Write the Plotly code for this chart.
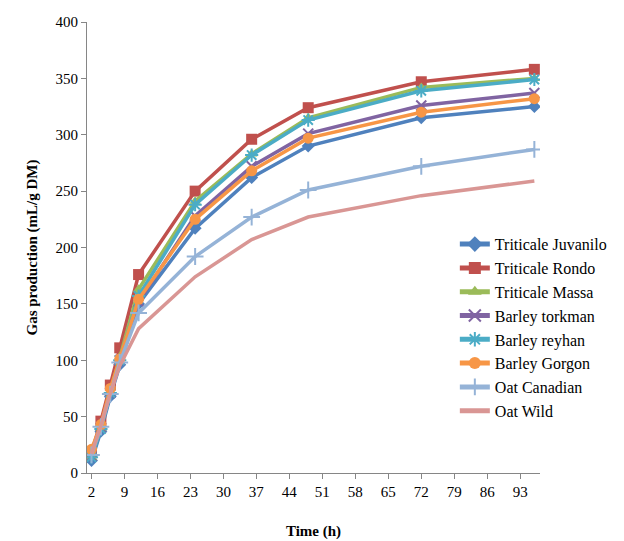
import plotly.graph_objects as go

times = [2, 4, 6, 8, 12, 24, 36, 48, 72, 96]

juvanilo = [11, 37, 68, 96, 150, 217, 262, 290, 315, 325]
rondo = [18, 46, 78, 111, 176, 250, 296, 324, 347, 358]
massa = [14, 40, 72, 103, 163, 241, 283, 315, 342, 350]
torkman = [15, 40, 71, 100, 152, 228, 272, 301, 326, 337]
reyhan = [14, 39, 71, 100, 157, 238, 282, 313, 339, 349]
gorgon = [21, 43, 75, 101, 154, 225, 268, 297, 320, 332]
canadian = [16, 41, 70, 98, 142, 192, 227, 251, 272, 287]
wild = [17, 42, 71, 95, 128, 174, 207, 227, 246, 259]

series_names = ["Triticale Juvanilo", "Triticale Rondo", "Triticale Massa",
                "Barley torkman", "Barley reyhan", "Barley Gorgon",
                "Oat Canadian", "Oat Wild"]
series_values = [juvanilo, rondo, massa, torkman, reyhan, gorgon, canadian, wild]
colors = ["#4F81BD", "#C0504D", "#9BBB59", "#8064A2", "#4BACC6", "#F79646",
          "#95B3D7", "#D99694"]
symbols = ["diamond", "square", "triangle-up", "x-thin", "asterisk", "circle",
           "cross-thin", None]
sizes = [10, 11, 10, 10, 11, 11, 12, 0]

x_ticks = [2, 9, 16, 23, 30, 37, 44, 51, 58, 65, 72, 79, 86, 93]
y_ticks = [0, 50, 100, 150, 200, 250, 300, 350, 400]

fig = go.Figure()
for name, vals, c, s, sz in zip(series_names, series_values, colors, symbols, sizes):
    if s is None:
        fig.add_trace(go.Scatter(x=times, y=vals, name=name, mode="lines",
                                 line=dict(color=c, width=3.5)))
    else:
        fig.add_trace(go.Scatter(
            x=times, y=vals, name=name, mode="lines+markers",
            line=dict(color=c, width=3.5),
            marker=dict(symbol=s, size=sz, color=c,
                        line=dict(color=c, width=2 if "thin" in s or s == "asterisk" else 0))))

font_family = "Liberation Serif, Times New Roman, serif"
fig.update_layout(
    width=616, height=533,
    margin=dict(l=79, r=63, t=14, b=68),
    paper_bgcolor="white", plot_bgcolor="white",
    font=dict(family=font_family, size=15, color="#000000"),
    showlegend=True,
    legend=dict(x=0.812, y=0.545, xanchor="left", yanchor="top",
                bgcolor="rgba(0,0,0,0)", font=dict(size=16, family=font_family),
                tracegroupgap=0, itemsizing="constant"),
    xaxis=dict(range=[1.05, 97.2], tickvals=x_ticks, ticktext=[str(t) for t in x_ticks],
               showgrid=False, zeroline=False, showline=True, linecolor="#868686",
               linewidth=1, ticks="outside", ticklen=5, tickcolor="#868686",
               tickfont=dict(size=15, family=font_family), automargin=False,
               title=dict(text="<b>Time (h)</b>", font=dict(size=15, family=font_family),
                          standoff=26)),
    yaxis=dict(range=[0, 400], tickvals=y_ticks, automargin=False,
               showgrid=False, zeroline=False, showline=True, linecolor="#868686",
               linewidth=1, ticks="outside", ticklen=5, tickcolor="#868686",
               tickfont=dict(size=15, family=font_family),
               title=dict(text="<b>Gas production (mL/g DM)</b>",
                          font=dict(size=15, family=font_family), standoff=14)),
)

fig.write_html("out.html")
